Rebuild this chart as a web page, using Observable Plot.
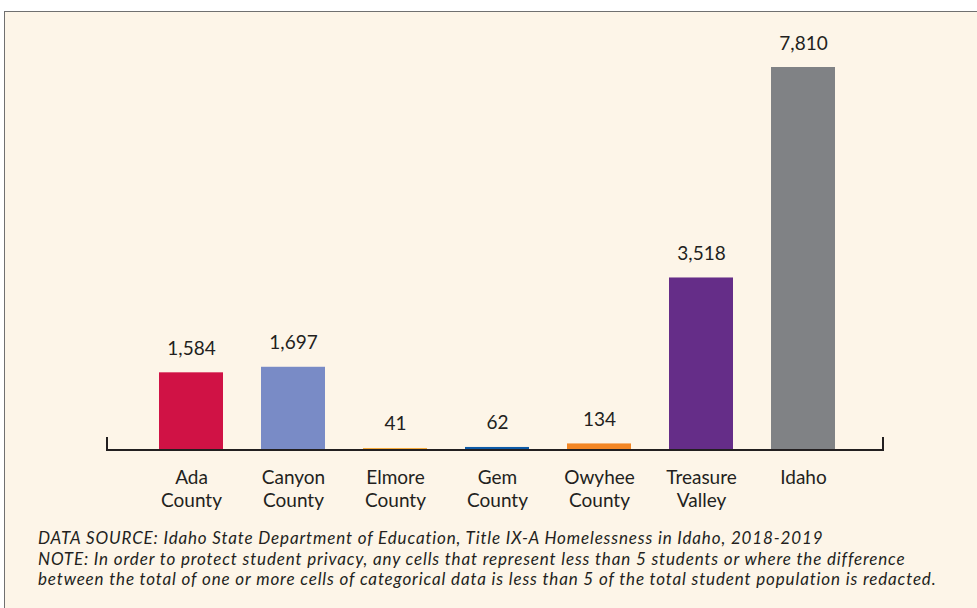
<!DOCTYPE html>
<html>
<head>
<meta charset="utf-8">
<script src="https://cdn.jsdelivr.net/npm/d3@7"></script>
<script src="https://cdn.jsdelivr.net/npm/@observablehq/plot@0.6"></script>
<style>
  html, body { margin: 0; padding: 0; background: #ffffff; overflow: hidden; }
  #box {
    position: absolute; left: 4px; top: 11px; width: 1000px; height: 640px;
    background: #fdf5e8; border: 1px solid #707070;
  }
  #chart svg { display: block; }
  #note {
    margin: 11px 0 0 33px;
    font-family: Lato, sans-serif; font-style: italic; font-size: 17px;
    letter-spacing: 0.85px;
    line-height: 20.5px; color: #231f20;
  }
</style>
</head>
<body>
<div id="box">
  <div id="chart"></div>
  <div id="note"></div>
</div>
<script>
const categories = ["Ada County", "Canyon County", "Elmore County", "Gem County", "Owyhee County", "Treasure Valley", "Idaho"];
const tickLabels = ["Ada\nCounty", "Canyon\nCounty", "Elmore\nCounty", "Gem\nCounty", "Owyhee\nCounty", "Treasure\nValley", "Idaho"];
const values = [1584, 1697, 41, 62, 134, 3518, 7810];
const colors = ["#d01245", "#798bc6", "#f5aa3c", "#0d5aa7", "#f38624", "#652d88", "#808285"];
const noteLines = [
  "DATA SOURCE: Idaho State Department of Education, Title IX-A Homelessness in Idaho, 2018-2019",
  "NOTE: In order to protect student privacy, any cells that represent less than 5 students or where the difference",
  "between the total of one or more cells of categorical data is less than 5 of the total student population is redacted."
];

const data = categories.map((c, i) => ({name: c, label: tickLabels[i], value: values[i], color: colors[i]}));
const fmt = d3.format(",");

const axisWithEnds = (index, scales, values, dims) => {
  const y0 = scales.y(0);
  const x1 = dims.marginLeft, x2 = dims.width - dims.marginRight;
  const p = document.createElementNS("http://www.w3.org/2000/svg", "path");
  p.setAttribute("d", `M${x1},${y0 - 13}V${y0}H${x2}V${y0 - 13}`);
  p.setAttribute("fill", "none");
  p.setAttribute("stroke", "#231f20");
  p.setAttribute("stroke-width", "2");
  const g = document.createElementNS("http://www.w3.org/2000/svg", "g");
  g.appendChild(p);
  return g;
};

const chart = Plot.plot({
  width: 972,
  height: 505,
  marginTop: 55,
  marginBottom: 67,
  marginLeft: 102,
  marginRight: 94,
  insetLeft: 32,
  insetRight: 28,
  style: {background: "transparent", fontFamily: "Lato, sans-serif", color: "#231f20"},
  x: {domain: categories, paddingInner: 0.375, paddingOuter: 0.1875, axis: null},
  y: {domain: [0, 7810], axis: null},
  marks: [
    Plot.barY(data, {x: "name", y: "value", fill: "color"}),
    Plot.text(data, {x: "name", y: "value", text: d => fmt(d.value), dy: -18, lineAnchor: "bottom", fontSize: 19, fill: "#231f20"}),
    Plot.text(data, {x: "name", text: "label", frameAnchor: "bottom", lineAnchor: "top", dy: 17, lineHeight: 1.22, fontSize: 19, fill: "#231f20", letterSpacing: 0.3}),
    axisWithEnds
  ]
});
document.getElementById("chart").appendChild(chart);
document.getElementById("note").innerHTML = noteLines.map(s => `<div>${s}</div>`).join("");
</script>
</body>
</html>
